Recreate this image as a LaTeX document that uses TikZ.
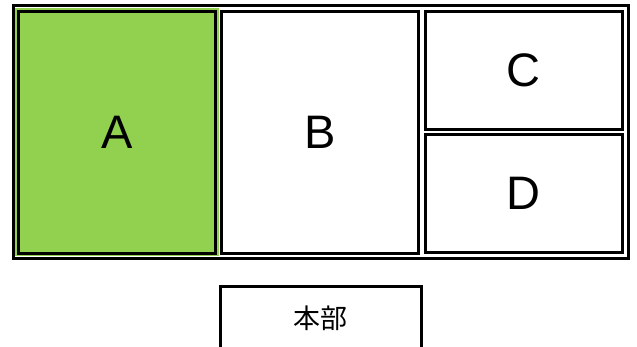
\documentclass[tikz,border=0pt]{standalone}
\usepackage{fontspec}
\setmainfont{Liberation Sans}
\newfontfamily\cjk{Noto Sans CJK JP}
\usetikzlibrary{positioning}
\definecolor{roomgreen}{HTML}{92D050}
\tikzset{x=1pt, y=-1pt, % one unit is one pixel of the plan, y runs downwards
node distance=5.5pt, % gap between the two small rooms
every room/.style={ % Sets the properties for each room
draw, line width=3pt,
inner sep=0pt, outer sep=0pt,
font=\fontsize{47}{47}\selectfont},
room/.style={every room, minimum width=197pt, minimum height=241.5pt},
halfroom/.style={every room, minimum width=196.5pt, minimum height=118pt},
frame/.style={draw, line width=3pt}}

\begin{document}
\begin{tikzpicture}
                \useasboundingbox (0,0) rectangle (637,346);
                \clip (0,0) rectangle (637,346);

                \draw[frame] (13.5,5) rectangle (628.5,258);
                \fill[roomgreen] (15,8) rectangle (219,256);

                \node[room, fill=roomgreen] (A) at (117.25,132.25) {A};
                \node[room] (B) at (320,132.25) {B};
                \node[halfroom] (C) at (523.75,70) {C};
                \node[halfroom, below=of C] (D) {D};

                \node[every room, minimum width=201.5pt, minimum height=64pt,
                      font=\fontsize{27}{27}\cjk] (hq) at (320.75,318.5) {本部};
            \end{tikzpicture}
\end{document}
